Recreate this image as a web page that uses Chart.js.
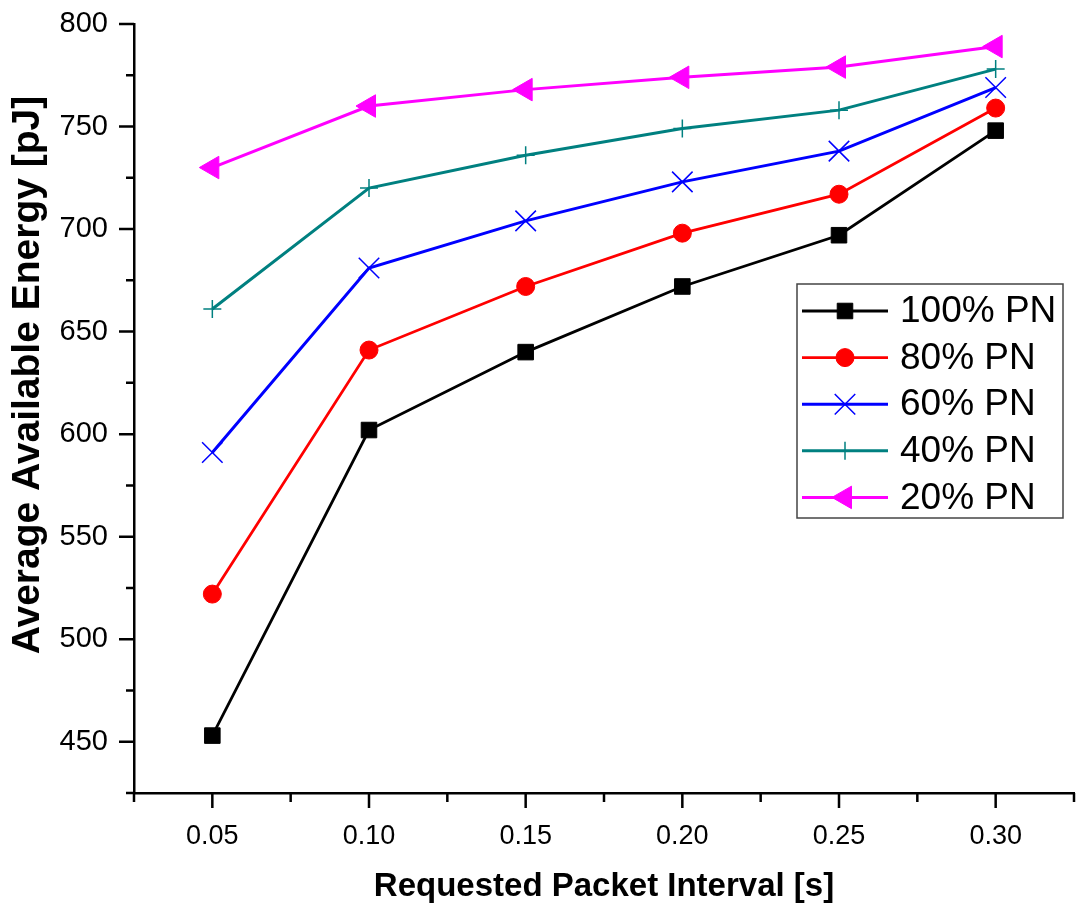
<!DOCTYPE html>
<html>
<head>
<meta charset="utf-8">
<title>Average Available Energy</title>
<script src="https://cdn.jsdelivr.net/npm/chart.js@4.4.1/dist/chart.umd.min.js"></script>
<style>
    html, body { margin: 0; padding: 0; background: #fff; }
    canvas { display: block; }
</style>
</head>
<body>
<canvas id="energyChart" width="1076" height="911"></canvas>
<script>
// Requested packet interval (s) on the x axis
const intervals = [0.05, 0.10, 0.15, 0.20, 0.25, 0.30];

// Average available energy (pJ) per share of packet nodes
const pn100 = [453, 602, 640, 672, 697, 748];
const pn80 = [522, 641, 672, 698, 717, 759];
const pn60 = [591, 681, 704, 723, 738, 769];
const pn40 = [661, 720, 736, 749, 758, 778];
const pn20 = [730, 760, 768, 774, 779, 789];

const seriesNames = ['100% PN', '80% PN', '60% PN', '40% PN', '20% PN'];

const FONT = 'Arial, "Liberation Sans", sans-serif';

const toPoints = (values) => values.map((v, i) => ({ x: intervals[i], y: v }));
const isMajorX = (v) => Math.round(v / 0.025) % 2 === 0;
const isMajorY = (v) => Math.round(v) % 50 === 0;

// tick marks: long on labelled values, short in between
const axisTicks = {
    id: 'axisTicks',
    afterDraw(chart) {
        const ctx = chart.ctx;
        const area = chart.chartArea;
        const xs = chart.scales.x;
        const ys = chart.scales.y;
        ctx.save();
        ctx.strokeStyle = '#000';
        ctx.lineWidth = 2.5;
        ctx.beginPath();
        xs.ticks.forEach((t) => {
            const px = xs.getPixelForValue(t.value);
            ctx.moveTo(px, area.bottom);
            ctx.lineTo(px, area.bottom + (isMajorX(t.value) ? 15 : 9));
        });
        ys.ticks.forEach((t) => {
            const py = ys.getPixelForValue(t.value);
            ctx.moveTo(area.left, py);
            ctx.lineTo(area.left - (isMajorY(t.value) ? 15 : 8), py);
        });
        ctx.stroke();

        // y axis title
        ctx.fillStyle = '#000';
        ctx.font = 'bold 39px ' + FONT;
        ctx.textAlign = 'center';
        ctx.textBaseline = 'middle';
        ctx.translate(28, 375);
        ctx.rotate(-Math.PI / 2);
        ctx.fillText('Average Available Energy [pJ]', 0, 0);
        ctx.restore();
    }
};

// boxed legend with line + marker samples
const lineLegend = {
    id: 'lineLegend',
    afterDraw(chart) {
        const ctx = chart.ctx;
        const box = { left: 797, top: 284, right: 1063, bottom: 518 };
        ctx.save();
        ctx.fillStyle = '#fff';
        ctx.fillRect(box.left, box.top, box.right - box.left, box.bottom - box.top);
        ctx.strokeStyle = '#444';
        ctx.lineWidth = 1.5;
        ctx.strokeRect(box.left, box.top, box.right - box.left, box.bottom - box.top);

        chart.data.datasets.forEach((ds, i) => {
            const y = 311 + i * 46.6;
            ctx.strokeStyle = ds.borderColor;
            ctx.lineWidth = ds.borderWidth;
            ctx.beginPath();
            ctx.moveTo(802, y);
            ctx.lineTo(888, y);
            ctx.stroke();

            ctx.fillStyle = ds.pointBackgroundColor;
            ctx.strokeStyle = ds.pointBorderColor;
            ctx.lineWidth = ds.pointBorderWidth;
            Chart.helpers.drawPoint(ctx, {
                pointStyle: ds.pointStyle,
                rotation: ds.pointRotation || 0,
                radius: ds.pointRadius,
                borderWidth: ds.pointBorderWidth
            }, 845, y);

            ctx.fillStyle = '#000';
            ctx.font = '37px ' + FONT;
            ctx.textAlign = 'left';
            ctx.textBaseline = 'middle';
            ctx.fillText(ds.label, 900, y + 1);
        });
        ctx.restore();
    }
};

const ctx = document.getElementById('energyChart').getContext('2d');
new Chart(ctx, {
    type: 'line',
    data: {
        datasets: [
            {
                label: seriesNames[0],
                data: toPoints(pn100),
                borderColor: '#000000',
                borderWidth: 2.8,
                pointStyle: 'rect',
                pointRadius: 11,
                pointBackgroundColor: '#000000',
                pointBorderColor: '#000000',
                pointBorderWidth: 1,
            },
            {
                label: seriesNames[1],
                data: toPoints(pn80),
                borderColor: '#ff0000',
                borderWidth: 2.8,
                pointStyle: 'circle',
                pointRadius: 9,
                pointBackgroundColor: '#ff0000',
                pointBorderColor: '#ff0000',
                pointBorderWidth: 1,
            },
            {
                label: seriesNames[2],
                data: toPoints(pn60),
                borderColor: '#0000ff',
                borderWidth: 3,
                pointStyle: 'crossRot',
                pointRadius: 14.5,
                pointBackgroundColor: '#0000ff',
                pointBorderColor: '#0000ff',
                pointBorderWidth: 1.5,
            },
            {
                label: seriesNames[3],
                data: toPoints(pn40),
                borderColor: '#008080',
                borderWidth: 3,
                pointStyle: 'cross',
                pointRadius: 9,
                pointBackgroundColor: '#008080',
                pointBorderColor: '#008080',
                pointBorderWidth: 1.5,
            },
            {
                label: seriesNames[4],
                data: toPoints(pn20),
                borderColor: '#ff00ff',
                borderWidth: 3,
                pointStyle: 'triangle',
                pointRotation: -90,
                pointRadius: 13,
                pointBackgroundColor: '#ff00ff',
                pointBorderColor: '#ff00ff',
                pointBorderWidth: 1,
            },
        ],
    },
    options: {
        responsive: false,
        animation: false,
        layout: {
            autoPadding: false,
            padding: { top: 24, right: 2, left: 0, bottom: 0 },
        },
        plugins: {
            legend: { display: false },
            tooltip: { enabled: false },
        },
        scales: {
            x: {
                type: 'linear',
                min: 0.025,
                max: 0.325,
                afterFit: (scale) => {
                    scale.height = 118;
                    scale.paddingLeft = 0;
                    scale.paddingRight = 0;
                },
                grid: { display: false, drawTicks: false },
                border: { display: true, color: '#000', width: 2.5 },
                ticks: {
                    stepSize: 0.025,
                    autoSkip: false,
                    maxRotation: 0,
                    padding: 27,
                    color: '#000',
                    font: { family: FONT, size: 27 },
                    callback: (v) => (isMajorX(v) ? v.toFixed(2) : ''),
                },
                title: {
                    display: true,
                    text: 'Requested Packet Interval [s]',
                    color: '#000',
                    font: { family: FONT, size: 33, weight: 'bold' },
                    padding: { top: 0, bottom: 4 },
                },
            },
            y: {
                type: 'linear',
                min: 425,
                max: 800,
                afterFit: (scale) => {
                    scale.width = 134;
                    scale.paddingTop = 0;
                    scale.paddingBottom = 0;
                },
                grid: { display: false, drawTicks: false },
                border: { display: true, color: '#000', width: 2.5 },
                ticks: {
                    stepSize: 25,
                    autoSkip: false,
                    padding: 26,
                    color: '#000',
                    font: { family: FONT, size: 29 },
                    callback: (v) => (isMajorY(v) ? String(v) : ''),
                },
            },
        },
    },
    plugins: [axisTicks, lineLegend],
});
</script>
</body>
</html>
